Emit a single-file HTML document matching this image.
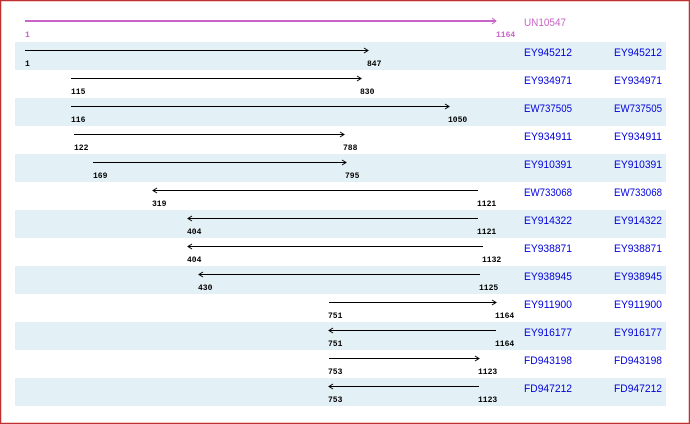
<!DOCTYPE html>
<html><head><meta charset="utf-8"><style>
html,body{margin:0;padding:0;background:#fff}
svg{display:block}
.n{font-family:"Liberation Mono",monospace;font-size:8px;font-weight:bold;fill:#000}
.t{font-family:"Liberation Sans",sans-serif;font-size:11px;fill:#0000dd}
</style></head><body>
<svg width="690" height="424" xmlns="http://www.w3.org/2000/svg">
<rect x="0.5" y="0.5" width="689" height="423" fill="#fff" stroke="#c03030" stroke-width="1.5"/>
<g fill="#e3f0f5">
<rect x="15" y="42" width="651" height="28"/>
<rect x="15" y="98" width="651" height="28"/>
<rect x="15" y="154" width="651" height="28"/>
<rect x="15" y="210" width="651" height="28"/>
<rect x="15" y="266" width="651" height="28"/>
<rect x="15" y="322" width="651" height="28"/>
<rect x="15" y="378" width="651" height="28"/>
</g>
<line x1="25" y1="21" x2="496" y2="21" stroke="#c864c8" stroke-width="2"/>
<path d="M492,18 L496,21 L492,24" fill="none" stroke="#c864c8" stroke-width="1"/>
<text class="n" x="25" y="37" style="fill:#c864c8">1</text>
<text class="n" x="496" y="37" style="fill:#c864c8">1164</text>
<text class="t" x="524" y="26" textLength="42" lengthAdjust="spacingAndGlyphs" style="fill:#c864c8">UN10547</text>
<g stroke="#000" stroke-width="1" fill="none">
<line x1="25" y1="50.5" x2="368" y2="50.5"/><path d="M364,48 L368,50.5 L364,53"/>
<line x1="71" y1="78.5" x2="361" y2="78.5"/><path d="M357,76 L361,78.5 L357,81"/>
<line x1="71" y1="106.5" x2="449" y2="106.5"/><path d="M445,104 L449,106.5 L445,109"/>
<line x1="74" y1="134.5" x2="344" y2="134.5"/><path d="M340,132 L344,134.5 L340,137"/>
<line x1="93" y1="162.5" x2="346" y2="162.5"/><path d="M342,160 L346,162.5 L342,165"/>
<line x1="153" y1="190.5" x2="478" y2="190.5"/><path d="M157,188 L153,190.5 L157,193"/>
<line x1="188" y1="218.5" x2="478" y2="218.5"/><path d="M192,216 L188,218.5 L192,221"/>
<line x1="188" y1="246.5" x2="483" y2="246.5"/><path d="M192,244 L188,246.5 L192,249"/>
<line x1="199" y1="274.5" x2="480" y2="274.5"/><path d="M203,272 L199,274.5 L203,277"/>
<line x1="329" y1="302.5" x2="496" y2="302.5"/><path d="M492,300 L496,302.5 L492,305"/>
<line x1="329" y1="330.5" x2="496" y2="330.5"/><path d="M333,328 L329,330.5 L333,333"/>
<line x1="329" y1="358.5" x2="479" y2="358.5"/><path d="M475,356 L479,358.5 L475,361"/>
<line x1="329" y1="386.5" x2="479" y2="386.5"/><path d="M333,384 L329,386.5 L333,389"/>
</g>
<g>
<text class="n" x="25" y="66">1</text><text class="n" x="367" y="66">847</text>
<text class="n" x="71" y="94">115</text><text class="n" x="360" y="94">830</text>
<text class="n" x="71" y="122">116</text><text class="n" x="448" y="122">1050</text>
<text class="n" x="74" y="150">122</text><text class="n" x="343" y="150">788</text>
<text class="n" x="93" y="178">169</text><text class="n" x="345" y="178">795</text>
<text class="n" x="152" y="206">319</text><text class="n" x="477" y="206">1121</text>
<text class="n" x="187" y="234">404</text><text class="n" x="477" y="234">1121</text>
<text class="n" x="187" y="262">404</text><text class="n" x="482" y="262">1132</text>
<text class="n" x="198" y="290">430</text><text class="n" x="479" y="290">1125</text>
<text class="n" x="328" y="318">751</text><text class="n" x="495" y="318">1164</text>
<text class="n" x="328" y="346">751</text><text class="n" x="495" y="346">1164</text>
<text class="n" x="328" y="374">753</text><text class="n" x="478" y="374">1123</text>
<text class="n" x="328" y="402">753</text><text class="n" x="478" y="402">1123</text>
</g>
<g>
<text class="t" x="524" y="56" textLength="48" lengthAdjust="spacingAndGlyphs">EY945212</text><text class="t" x="614" y="56" textLength="48" lengthAdjust="spacingAndGlyphs">EY945212</text>
<text class="t" x="524" y="84" textLength="48" lengthAdjust="spacingAndGlyphs">EY934971</text><text class="t" x="614" y="84" textLength="48" lengthAdjust="spacingAndGlyphs">EY934971</text>
<text class="t" x="524" y="112" textLength="48" lengthAdjust="spacingAndGlyphs">EW737505</text><text class="t" x="614" y="112" textLength="48" lengthAdjust="spacingAndGlyphs">EW737505</text>
<text class="t" x="524" y="140" textLength="48" lengthAdjust="spacingAndGlyphs">EY934911</text><text class="t" x="614" y="140" textLength="48" lengthAdjust="spacingAndGlyphs">EY934911</text>
<text class="t" x="524" y="168" textLength="48" lengthAdjust="spacingAndGlyphs">EY910391</text><text class="t" x="614" y="168" textLength="48" lengthAdjust="spacingAndGlyphs">EY910391</text>
<text class="t" x="524" y="196" textLength="48" lengthAdjust="spacingAndGlyphs">EW733068</text><text class="t" x="614" y="196" textLength="48" lengthAdjust="spacingAndGlyphs">EW733068</text>
<text class="t" x="524" y="224" textLength="48" lengthAdjust="spacingAndGlyphs">EY914322</text><text class="t" x="614" y="224" textLength="48" lengthAdjust="spacingAndGlyphs">EY914322</text>
<text class="t" x="524" y="252" textLength="48" lengthAdjust="spacingAndGlyphs">EY938871</text><text class="t" x="614" y="252" textLength="48" lengthAdjust="spacingAndGlyphs">EY938871</text>
<text class="t" x="524" y="280" textLength="48" lengthAdjust="spacingAndGlyphs">EY938945</text><text class="t" x="614" y="280" textLength="48" lengthAdjust="spacingAndGlyphs">EY938945</text>
<text class="t" x="524" y="308" textLength="48" lengthAdjust="spacingAndGlyphs">EY911900</text><text class="t" x="614" y="308" textLength="48" lengthAdjust="spacingAndGlyphs">EY911900</text>
<text class="t" x="524" y="336" textLength="48" lengthAdjust="spacingAndGlyphs">EY916177</text><text class="t" x="614" y="336" textLength="48" lengthAdjust="spacingAndGlyphs">EY916177</text>
<text class="t" x="524" y="364" textLength="48" lengthAdjust="spacingAndGlyphs">FD943198</text><text class="t" x="614" y="364" textLength="48" lengthAdjust="spacingAndGlyphs">FD943198</text>
<text class="t" x="524" y="392" textLength="48" lengthAdjust="spacingAndGlyphs">FD947212</text><text class="t" x="614" y="392" textLength="48" lengthAdjust="spacingAndGlyphs">FD947212</text>
</g>
</svg>
</body></html>
